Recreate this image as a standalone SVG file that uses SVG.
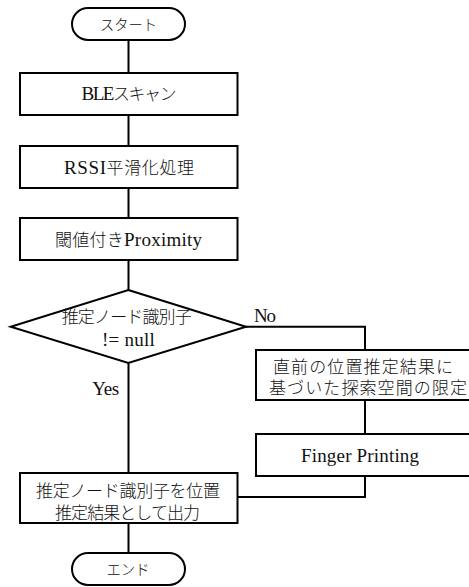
<svg xmlns="http://www.w3.org/2000/svg" width="469" height="587" viewBox="0 0 469 587">
<style>
.shape{fill:#fff;stroke:#000;stroke-width:2}
.conn{fill:none;stroke:#000;stroke-width:2}
text{font-family:"Liberation Serif","Noto Sans CJK JP",serif;font-size:17px;font-weight:300;fill:#111;text-anchor:middle}
.lat{font-size:19px;font-weight:400}
.term{font-size:15px}
</style>
<rect width="469" height="587" fill="#fff"/>
<g id="connectors">
<path class="conn" d="M128.5 40V73M128.5 115V146M128.5 188V218M128.5 260V290M128.5 363V473M128.5 523V553"/>
<path class="conn" d="M246 326.7H365V350M365 400V434M365 476V497H237"/>
</g>
<g id="start"><rect class="shape" x="72" y="8" width="113" height="32" rx="16"/><text class="term" x="128.5" y="29.5" textLength="57" lengthAdjust="spacingAndGlyphs">スタート</text></g>
<g id="ble"><rect class="shape" x="20" y="73" width="217.5" height="42"/><text x="129" y="100" textLength="95"><tspan class="lat">BLE</tspan>スキャン</text></g>
<g id="rssi"><rect class="shape" x="20" y="146" width="217.5" height="42"/><text x="129" y="173.5" textLength="130"><tspan class="lat">RSSI</tspan>平滑化処理</text></g>
<g id="proximity"><rect class="shape" x="20" y="218" width="217.5" height="42"/><text x="128.5" y="245.5" textLength="147">閾値付き<tspan class="lat">Proximity</tspan></text></g>
<g id="decision"><polygon class="shape" points="128.3,290 246,326.7 128.3,363 10.7,326.7"/><text x="126.7" y="322.5" textLength="130">推定ノード識別子</text><text class="lat" x="128.4" y="345.5" textLength="53">!= null</text></g>
<g id="limit"><rect class="shape" x="256" y="350" width="218" height="50"/><text x="363" y="373" textLength="180">直前の位置推定結果に</text><text x="368" y="394" textLength="198">基づいた探索空間の限定</text></g>
<g id="finger"><rect class="shape" x="256" y="434" width="218" height="42"/><text class="lat" x="360" y="461.5" textLength="118">Finger Printing</text></g>
<g id="output"><rect class="shape" x="20" y="473" width="217.5" height="50"/><text x="128" y="496.5" textLength="184">推定ノード識別子を位置</text><text x="127.5" y="519" textLength="145">推定結果として出力</text></g>
<g id="end"><rect class="shape" x="72" y="553" width="113" height="32" rx="16"/><text class="term" x="128" y="574.5" textLength="43" lengthAdjust="spacingAndGlyphs">エンド</text></g>
<g id="labels"><text class="lat" x="265" y="322" textLength="22">No</text><text class="lat" x="105.7" y="395" textLength="27">Yes</text></g>
</svg>
